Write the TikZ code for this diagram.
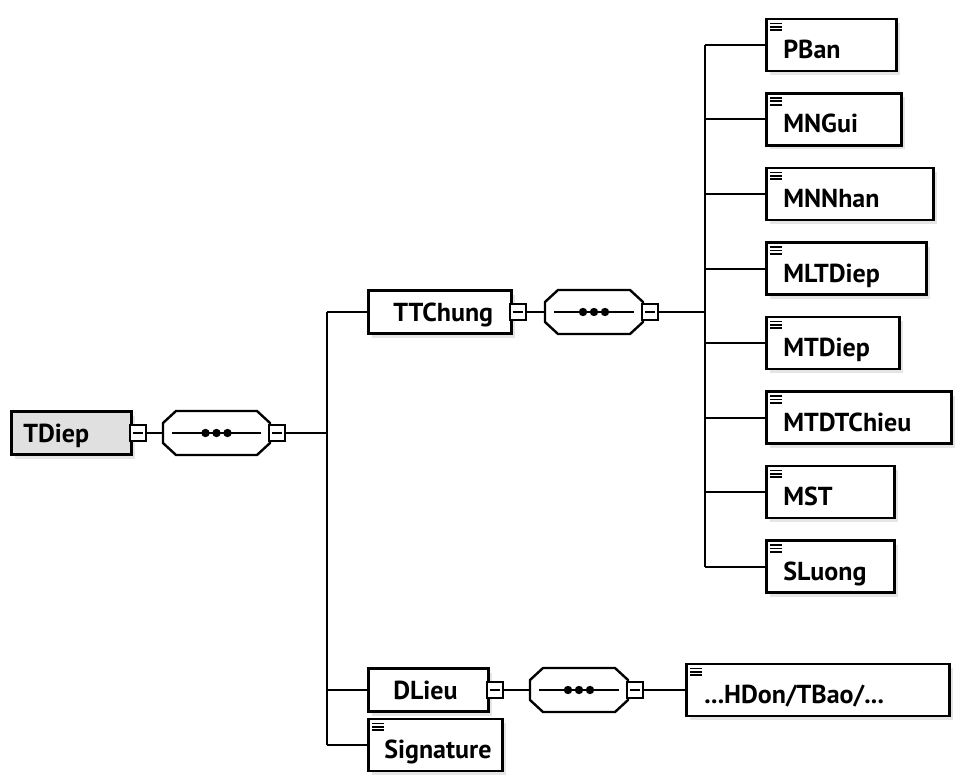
\documentclass[tikz,border=0pt]{standalone}
\usepackage{fontspec}
\setmainfont{PT Sans}
\usetikzlibrary{shadows,positioning}

% sequence compositor drawn round a placeholder node
\newcommand{\seqshape}[1]{
  \fill[black!20,xshift=4pt,yshift=-4pt] ([xshift=13]#1.north west) -- ([xshift=-13]#1.north east) -- ([yshift=-12]#1.north east) -- ([yshift=12]#1.south east) -- ([xshift=-13]#1.south east) -- ([xshift=13]#1.south west) -- ([yshift=12]#1.south west) -- ([yshift=-12]#1.north west) -- cycle;
  \draw[line width=2.4pt,fill=white] ([xshift=13]#1.north west) -- ([xshift=-13]#1.north east) -- ([yshift=-12]#1.north east) -- ([yshift=12]#1.south east) -- ([xshift=-13]#1.south east) -- ([xshift=13]#1.south west) -- ([yshift=12]#1.south west) -- ([yshift=-12]#1.north west) -- cycle;
  \draw ([xshift=9]#1.west) -- ([xshift=-9]#1.east);
  \foreach \d in {-11,0,11} \fill ([xshift=\d]#1.center) circle (4.2pt);
}

\begin{document}
\begin{tikzpicture}[x=1pt,y=-1pt,line width=2pt,
  every node/.style={font=\fontsize{26}{31}\selectfont\bfseries},
  elem/.style={draw,line width=2.6pt,fill=white,anchor=west,align=left,
    minimum height=43,inner xsep=25,text height=18,text depth=0,
    drop shadow={shadow xshift=4pt,shadow yshift=-4pt,fill=black!20}},
  leaf/.style={elem,minimum height=52,inner xsep=17,text height=27,
    path picture={\foreach \k in {0,1,2}
      \draw[black,line width=1.8pt] ([xshift=4pt,yshift={-(4.5+3.4*\k)*1pt}]path picture bounding box.north west) -- ++(12pt,0pt);}},
  seq/.style={anchor=west,minimum width=105,minimum height=42,inner sep=0},
  minus/.style={draw,fill=white,line width=2pt,minimum size=16,inner sep=0,
    path picture={\draw[black,line width=1.5pt] ([xshift=3pt]path picture bounding box.west) -- ([xshift=-3pt]path picture bounding box.east);}}]
\useasboundingbox (0,0) rectangle (960,778);

% root
\node[elem,fill=black!12,inner xsep=12,text width=96] (tdiep) at (10,433) {TDiep};
\node[minus] (tdiepm) at ([xshift=5]tdiep.east) {};
\node[seq] (seq1) at (163,433) {};
\seqshape{seq1}
\node[minus] (seq1m) at ([xshift=7]seq1.east) {};
\coordinate (bus1) at (327,433);
\draw (tdiepm) -- (seq1);
\draw (seq1m) -- (bus1);

% TTChung branch
\node[elem,text width=93] (ttchung) at (367,312) {TTChung};
\node[minus] (ttchungm) at ([xshift=5]ttchung.east) {};
\node[seq,minimum width=96] (seq2) at (545,312) {};
\seqshape{seq2}
\node[minus] (seq2m) at ([xshift=7]seq2.east) {};
\coordinate (bus2) at (705,312);
\draw (ttchungm) -- (seq2);
\draw (seq2m) -- (bus2);

\foreach \name/\w [count=\i] in {PBan/130,MNGui/135,MNNhan/167,MLTDiep/160,MTDiep/133,MTDTChieu/185,MST/128,SLuong/128}
  \node[leaf,text width=\w-34] (c\i) at (765,{45+(\i-1)*74.5}) {\name};
\draw (bus2 |- c1) -- (bus2 |- c8);
\foreach \i in {1,...,8} \draw (bus2 |- c\i) -- (c\i);

% DLieu branch
\node[elem,text width=70] (dlieu) at (367,690) {DLieu};
\node[minus] (dlieum) at ([xshift=5]dlieu.east) {};
\node[seq,minimum width=96] (seq3) at (530,690) {};
\seqshape{seq3}
\node[minus] (seq3m) at ([xshift=7]seq3.east) {};
\node[leaf,inner xsep=18,text width=227] (hdon) at (685,690) {...HDon/TBao/...};
\draw (dlieum) -- (seq3);
\draw (seq3m) -- (hdon);

\node[leaf,inner xsep=16,text width=102] (sig) at (367,745) {Signature};

\draw (bus1 |- ttchung) -- (bus1 |- sig);
\foreach \n in {ttchung,dlieu,sig} \draw (bus1 |- \n) -- (\n);
\end{tikzpicture}
\end{document}
